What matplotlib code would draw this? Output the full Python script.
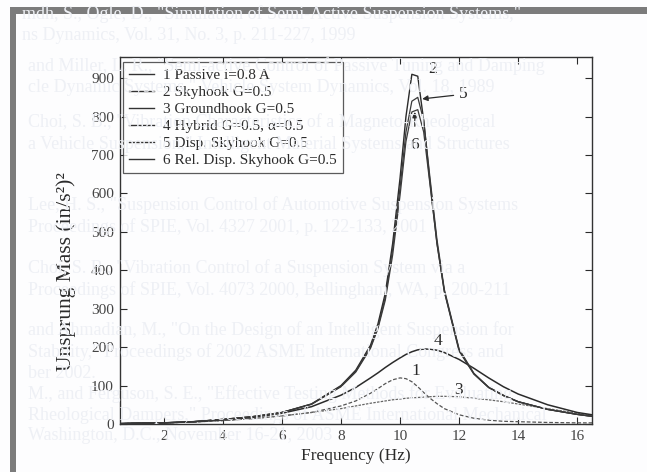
import matplotlib
matplotlib.use('Agg')
import matplotlib.pyplot as plt
from matplotlib.patches import Rectangle

plt.rcParams['font.family'] = ['Liberation Serif', 'DejaVu Serif']

# frequency grid (Hz) and unsprung mass response for each control policy
freq = [0.5, 1, 2, 3, 4, 5, 6, 7, 8, 8.5, 9, 9.25, 9.5, 9.75, 10, 10.2, 10.4,
        10.6, 10.8, 11, 11.25, 11.5, 12, 12.5, 13, 13.5, 14, 15, 16, 16.5]

passive = [1, 2, 3, 5, 9, 14, 21, 30, 47, 60, 80, 92, 105, 115, 120, 118, 110,
           97, 82, 68, 53, 40, 24, 15, 10, 7, 6, 4, 3, 3]
skyhook = [1, 2, 3, 6, 12, 19, 30, 52, 100, 140, 205, 260, 340, 470, 640, 800, 910,
           905, 790, 640, 470, 345, 190, 130, 95, 74, 58, 38, 25, 20]
groundhook = [1, 2, 3, 5, 9, 14, 21, 30, 40, 47, 54, 57, 60, 63, 65, 67, 68,
              69, 70, 71, 72, 72, 71, 67, 63, 58, 52, 40, 28, 22]
hybrid = [1, 2, 3, 6, 11, 17, 28, 45, 75, 95, 120, 133, 147, 160, 172, 181, 188,
          193, 195, 195, 192, 186, 168, 145, 120, 97, 78, 50, 30, 24]
disp_sky = [1, 2, 3, 6, 12, 19, 30, 52, 98, 137, 200, 252, 330, 455, 615, 760, 840,
            850, 790, 650, 480, 350, 195, 132, 96, 75, 58, 38, 25, 20]
rel_disp_sky = [1, 2, 3, 6, 12, 19, 30, 51, 97, 135, 197, 248, 322, 440, 595, 735, 812,
                818, 760, 632, 470, 345, 193, 131, 95, 74, 58, 38, 25, 20]

labels = ['1 Passive i=0.8 A', '2 Skyhook G=0.5', '3 Groundhook G=0.5',
          '4 Hybrid G=0.5, \u03b1=0.5', '5 Disp. Skyhook G=0.5',
          '6 Rel. Disp. Skyhook G=0.5']

# faint reference list showing through from the printed page
page_lines = [
    (22, 14, 'mdh, S., Ogle, D., "Simulation of Semi-Active Suspension Systems,"'),
    (22, 36, 'ns Dynamics, Vol. 31, No. 3, p. 211-227, 1999'),
    (28, 66, 'and Miller, L. R., "Semi-active Control of Passive Tuning and Damping'),
    (28, 88, 'cle Dynamic Systems," Vehicle System Dynamics, Vol. 18, 1989'),
    (28, 122, 'Choi, S. B., "Vibration Characteristics of a Magneto-Rheological'),
    (28, 144, 'a Vehicle Suspension," Intelligent Material Systems and Structures'),
    (28, 205, 'Lee, H. S., "Suspension Control of Automotive Suspension Systems'),
    (28, 227, 'Proceedings of SPIE, Vol. 4327 2001, p. 122-133, 2001'),
    (28, 268, 'Choi, S. B., "Vibration Control of a Suspension System via a'),
    (28, 290, 'Proceedings of SPIE, Vol. 4073 2000, Bellingham, WA, p. 200-211'),
    (28, 330, 'and Ahmadian, M., "On the Design of an Intelligent Suspension for'),
    (28, 352, 'Stability," Proceedings of 2002 ASME International Congress and'),
    (28, 374, 'ber 2002.'),
    (28, 394, 'M., and Ferguson, S. E., "Effective Testing Methods for Evaluating'),
    (28, 415, 'Rheological Dampers," Proceedings of ASME International Mechanical'),
    (28, 436, 'Washington, D.C., November 16-21, 2003'),
]

fig = plt.figure(figsize=(6.47, 4.72), dpi=100)
fig.patch.set_facecolor('#fdfdfe')

# scanner border along the top and left
fig.add_artist(Rectangle((10 / 647, 0), 6 / 647, 465 / 472, transform=fig.transFigure,
                         facecolor='#7c7c7c', edgecolor='none', zorder=0))
fig.add_artist(Rectangle((10 / 647, 458 / 472), 637 / 647, 7 / 472, transform=fig.transFigure,
                         facecolor='#7c7c7c', edgecolor='none', zorder=0))

for px, py, s in page_lines:
    fig.text(px / 647, 1 - py / 472, s, fontsize=13, color='#eef0f5',
             va='center', ha='left', zorder=0)

ax = fig.add_axes([119.5 / 647, 48 / 472, 472.5 / 647, 367 / 472])
ax.set_facecolor('none')

ink = '#2b2b2b'
ax.plot(freq, passive, color='#555555', lw=0.9, ls=(0, (3, 1.5)), label=labels[0])
ax.plot(freq, skyhook, color=ink, lw=1.0, label=labels[1])
ax.plot(freq, groundhook, color='#666666', lw=0.9, ls=(0, (2, 1)), label=labels[2])
ax.plot(freq, hybrid, color=ink, lw=1.1, label=labels[3])
ax.plot(freq, disp_sky, color='#3a3a3a', lw=0.9, label=labels[4])
ax.plot(freq, rel_disp_sky, color='#3a3a3a', lw=0.9, label=labels[5])

ax.set_xlim(0.5, 16.5)
ax.set_ylim(0, 955)
ax.set_xticks([2, 4, 6, 8, 10, 12, 14, 16])
ax.set_yticks(range(0, 1000, 100))
ax.tick_params(direction='in', top=True, right=True, length=5, width=0.8,
               labelsize=11, colors=ink, labelcolor='#444444', pad=4)
for sp in ax.spines.values():
    sp.set_color('#333333')
    sp.set_linewidth(1.0)

ax.set_xlabel('Frequency (Hz)', fontsize=12.5, color=ink, labelpad=4)
ax.set_ylabel('Unsprung Mass (in/s\u00b2)\u00b2', fontsize=15.5, color=ink)
ax.yaxis.set_label_coords(-0.092, 0.415)

leg = ax.legend(loc='upper left', bbox_to_anchor=(0.008, 0.986), fontsize=11,
                frameon=True, fancybox=False, edgecolor='#333333', handlelength=1.6,
                labelspacing=0.22, borderpad=0.4, handletextpad=0.6, borderaxespad=0)
leg.get_frame().set_linewidth(0.9)
for line in leg.get_lines():
    line.set_linestyle('-')
    line.set_color('#333333')
    line.set_linewidth(1.0)
for t in leg.get_texts():
    t.set_color(ink)

# curve numbers
ax.text(10.95, 925, '2', fontsize=12.5, color=ink, va='center')
ax.annotate('5', xy=(10.75, 846), xytext=(12.0, 858), fontsize=12.5, color=ink, va='center',
            arrowprops=dict(arrowstyle='-|>', color=ink, lw=0.9, mutation_scale=8,
                            shrinkA=2, shrinkB=0))
ax.annotate('6', xy=(10.5, 812), xytext=(10.5, 725), fontsize=12.5, color=ink, ha='center',
            va='center', arrowprops=dict(arrowstyle='-|>', color=ink, lw=0.9,
                                         mutation_scale=8, shrinkA=6, shrinkB=0))
ax.text(11.15, 215, '4', fontsize=12.5, color=ink, va='center')
ax.text(10.4, 137, '1', fontsize=12.5, color=ink, va='center')
ax.text(11.85, 88, '3', fontsize=12.5, color=ink, va='center')

fig.savefig('out.png', dpi=100)
